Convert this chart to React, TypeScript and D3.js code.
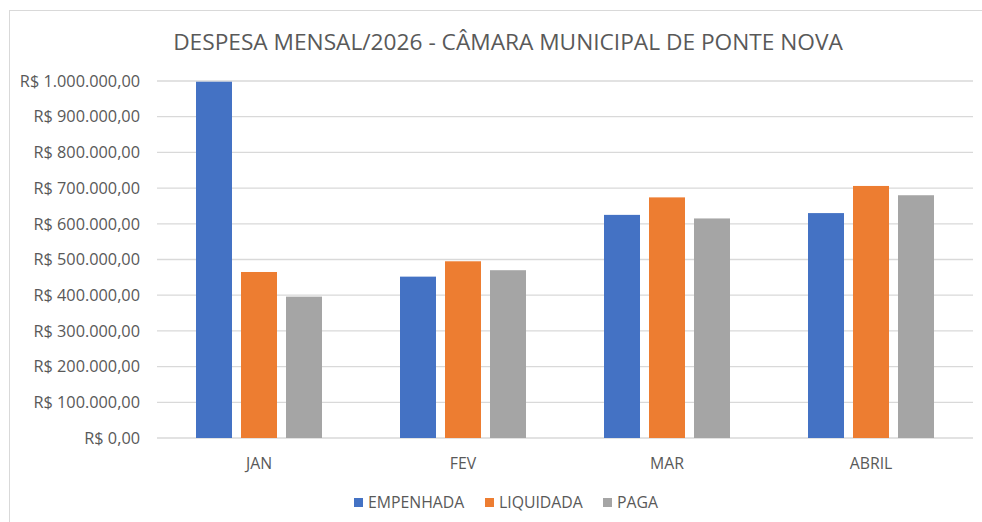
import React from "react";
import * as d3 from "d3";

const categories = ["JAN", "FEV", "MAR", "ABRIL"];
const seriesNames = ["EMPENHADA", "LIQUIDADA", "PAGA"];
const empenhada = [998000, 452000, 625000, 630000];
const liquidada = [465000, 495000, 674000, 706000];
const paga = [396000, 470000, 615000, 680000];
const yTicks = [0, 100000, 200000, 300000, 400000, 500000, 600000, 700000, 800000, 900000, 1000000];
const colors = ["#4472C4", "#ED7D31", "#A5A5A5"];

const W = 982;
const H = 522;
const FONT = "'Open Sans', sans-serif";

const fmt = (v: number) => {
  const s = d3.format(",.2f")(v);
  return "R$ " + s.replace(/,/g, "#").replace(/\./g, ",").replace(/#/g, ".");
};

export default function App() {
  const plotLeft = 157;
  const plotRight = 973;
  const plotTop = 81;
  const plotBottom = 438;
  const series = [empenhada, liquidada, paga];

  const x = d3.scaleBand<string>().domain(categories).range([plotLeft, plotRight]).padding(0);
  const y = d3.scaleLinear().domain([0, 1000000]).range([plotBottom, plotTop]);
  const barW = 36;
  const step = 45;

  const legendItems = [
    { name: seriesNames[0], sx: 354, tx: 368 },
    { name: seriesNames[1], sx: 485, tx: 499 },
    { name: seriesNames[2], sx: 603, tx: 617 },
  ];

  return (
    <svg width={W} height={H} style={{ position: "absolute", left: 0, top: 0 }} fontFamily={FONT}>
      <rect x={0} y={0} width={W} height={H} fill="#fff" />
      <rect x={9.5} y={10.5} width={W} height={H} fill="#fff" stroke="#D9D9D9" strokeWidth={1} />
      <text x={508} y={50} textAnchor="middle" fontSize={22.7} fill="#595959">
        DESPESA MENSAL/2026 - CÂMARA MUNICIPAL DE PONTE NOVA
      </text>
      {yTicks.map((t) => (
        <g key={t}>
          <line x1={plotLeft} x2={plotRight} y1={y(t)} y2={y(t)} stroke="#D9D9D9" strokeWidth={1.3} />
          <text x={140} y={y(t)} dy="0.35em" textAnchor="end" fontSize={16.3} fill="#595959">
            {fmt(t)}
          </text>
        </g>
      ))}
      {categories.map((c, ci) => {
        const cx = (x(c) as number) + x.bandwidth() / 2;
        return (
          <g key={c}>
            {series.map((s, si) => {
              const bx = cx + (si - 1) * step - barW / 2;
              return (
                <rect key={si} x={bx} y={y(s[ci])} width={barW} height={plotBottom - y(s[ci])} fill={colors[si]} />
              );
            })}
            <text x={cx} y={463} dy="0.35em" textAnchor="middle" fontSize={15.8} fill="#595959">
              {c}
            </text>
          </g>
        );
      })}
      {legendItems.map((l, i) => (
        <g key={l.name}>
          <rect x={l.sx} y={498} width={9} height={9} fill={colors[i]} />
          <text x={l.tx} y={502} dy="0.35em" fontSize={15.8} fill="#595959">
            {l.name}
          </text>
        </g>
      ))}
    </svg>
  );
}
